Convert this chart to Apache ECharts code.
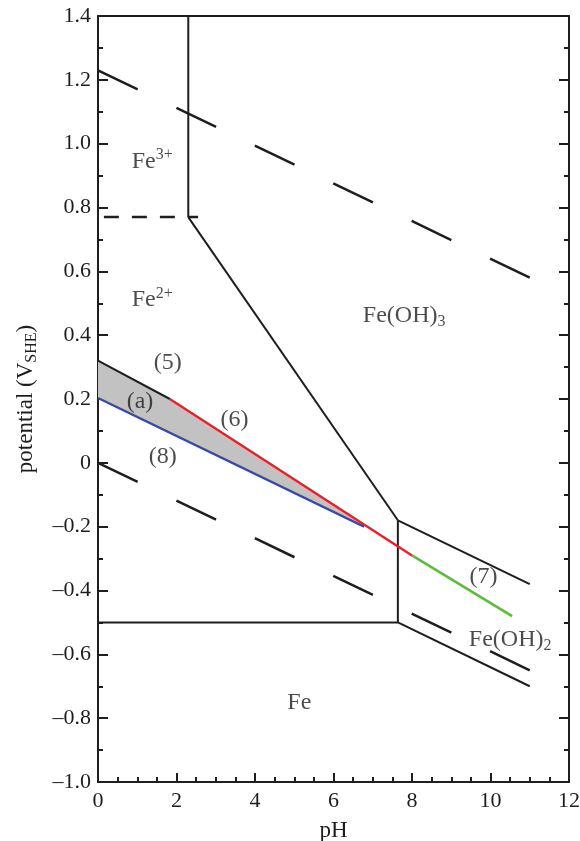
<!DOCTYPE html>
<html lang="en">
<head>
  <meta charset="UTF-8">
  <title>Fe Pourbaix diagram</title>
</head>
<body style="margin:0">
  <div id="main" style="width:580px;height:841px;"></div>
  <script src="https://cdn.jsdelivr.net/npm/echarts@6/dist/echarts.min.js"></script>
  <script>
    // boundary lines, points are [pH, potential]
    let fe3Fe2 = [[0.15, 0.77], [2.55, 0.77]];
    let fe3Hydroxide3 = [[2.3, 0.77], [2.3, 1.4]];
    let fe2Hydroxide3 = [[2.3, 0.77], [7.64, -0.18]];
    let fe2Hydroxide2 = [[7.64, -0.18], [7.64, -0.5]];
    let feFe2 = [[0, -0.5], [7.64, -0.5]];
    let hydroxide23 = [[7.64, -0.18], [11, -0.38]];
    let feHydroxide2 = [[7.64, -0.5], [11, -0.7]];
    let waterO2 = [[0, 1.23], [11, 0.58]];
    let waterH2 = [[0, 0], [11, -0.65]];
    let line5 = [[0, 0.32], [1.83, 0.2]];
    let line6 = [[1.83, 0.2], [8.0, -0.29]];
    let line7 = [[8.0, -0.29], [10.55, -0.48]];
    let line8 = [[0, 0.203], [6.78, -0.2]];
    let regionA = [[0, 0.32], [1.83, 0.2], [6.78, -0.195], [0, 0.203]];
    let labels = [
      [1.38, 0.945, 'Fe{sup|3+}'],
      [1.38, 0.51, 'Fe{sup|2+}'],
      [7.8, 0.46, 'Fe(OH){sub|3}'],
      [1.78, 0.315, '(5)'],
      [1.07, 0.19, '(a)'],
      [3.48, 0.135, '(6)'],
      [1.65, 0.02, '(8)'],
      [9.82, -0.358, '(7)'],
      [10.5, -0.555, 'Fe(OH){sub|2}'],
      [5.13, -0.752, 'Fe']
    ];

    let font = 'Liberation Serif';
    let ink = '#1e1e1e';

    let chart = echarts.init(document.getElementById('main'));

    function seg(data, color, width, dash) {
      return {
        type: 'line',
        data: data,
        symbol: 'none',
        silent: true,
        z: 3,
        lineStyle: { color: color, width: width, type: dash || 'solid' }
      };
    }

    let valueFmt = v => v === 0 ? '0' : (v < 0 ? '\u2013' : '') + Math.abs(v).toFixed(1);
    let frame = { show: true, onZero: false, lineStyle: { color: ink, width: 2 } };

    let option = {
      animation: false,
      grid: { left: 98, right: 11, top: 16, bottom: 59, outerBoundsMode: 'none', containLabel: false },
      xAxis: [{
        type: 'value',
        min: 0, max: 12, interval: 2,
        name: 'pH',
        nameLocation: 'middle',
        nameGap: 37,
        nameTextStyle: { fontFamily: font, fontSize: 23, color: ink },
        axisLine: frame,
        axisTick: { inside: true, length: 9, lineStyle: { color: ink, width: 2 } },
        minorTick: { show: true, splitNumber: 4, length: 5, lineStyle: { color: ink, width: 2 } },
        axisLabel: { fontFamily: font, fontSize: 22, color: ink, margin: 8 },
        splitLine: { show: false }
      }, {
        type: 'value',
        position: 'top',
        min: 0, max: 12,
        axisLine: frame,
        axisTick: { show: false },
        axisLabel: { show: false },
        splitLine: { show: false }
      }],
      yAxis: [{
        type: 'value',
        min: -1.0, max: 1.4, interval: 0.2,
        name: 'potential (V{sub|SHE})',
        nameLocation: 'middle',
        nameGap: 58,
        nameTextStyle: {
          fontFamily: font, fontSize: 23, color: ink, lineHeight: 28,
          rich: { sub: { fontFamily: font, fontSize: 16, verticalAlign: 'bottom', lineHeight: 18, color: ink } }
        },
        axisLine: frame,
        axisTick: { inside: true, length: 10, lineStyle: { color: ink, width: 2 } },
        minorTick: { show: true, splitNumber: 2, length: 5, lineStyle: { color: ink, width: 2 } },
        axisLabel: { fontFamily: font, fontSize: 22, color: ink, margin: 7, formatter: valueFmt },
        splitLine: { show: false }
      }, {
        type: 'value',
        position: 'right',
        min: -1.0, max: 1.4, interval: 0.2,
        axisLine: frame,
        axisTick: { inside: true, length: 10, lineStyle: { color: ink, width: 2 } },
        minorTick: { show: true, splitNumber: 2, length: 5, lineStyle: { color: ink, width: 2 } },
        axisLabel: { show: false },
        splitLine: { show: false }
      }],
      series: [
        {
          type: 'custom',
          silent: true,
          z: 1,
          renderItem: (params, api) => {
            if (params.dataIndex !== 0) return null;
            let points = regionA.map(p => api.coord(p));
            return {
              type: 'polygon',
              shape: { points: points },
              style: { fill: '#c2c2c2' }
            };
          },
          encode: { x: 0, y: 1 },
          data: regionA
        },
        seg(waterO2, ink, 2.5, [44, 43]),
        seg(waterH2, ink, 2.5, [44, 43]),
        seg(fe3Fe2, ink, 2.5, [15, 13]),
        seg(fe3Hydroxide3, ink, 2),
        seg(fe2Hydroxide3, ink, 2),
        seg(fe2Hydroxide2, ink, 2),
        seg(feFe2, ink, 2),
        seg(hydroxide23, ink, 2),
        seg(feHydroxide2, ink, 2),
        seg(line5, ink, 2),
        seg(line6, '#e8202a', 2.4),
        seg(line7, '#5dbb3c', 2.6),
        seg(line8, '#3a48a8', 2.4),
        {
          type: 'scatter',
          symbolSize: 0,
          silent: true,
          z: 5,
          data: labels.map(l => ({ value: [l[0], l[1]], label: { formatter: l[2] } })),
          label: {
            show: true,
            position: 'inside',
            fontFamily: font,
            fontSize: 24,
            lineHeight: 28,
            color: ink,
            rich: {
              sup: { fontFamily: font, fontSize: 16, lineHeight: 16, verticalAlign: 'top', color: ink },
              sub: { fontFamily: font, fontSize: 16, lineHeight: 16, verticalAlign: 'bottom', color: ink }
            }
          }
        }
      ]
    };
    chart.setOption(option);
  </script>
</body>
</html>
